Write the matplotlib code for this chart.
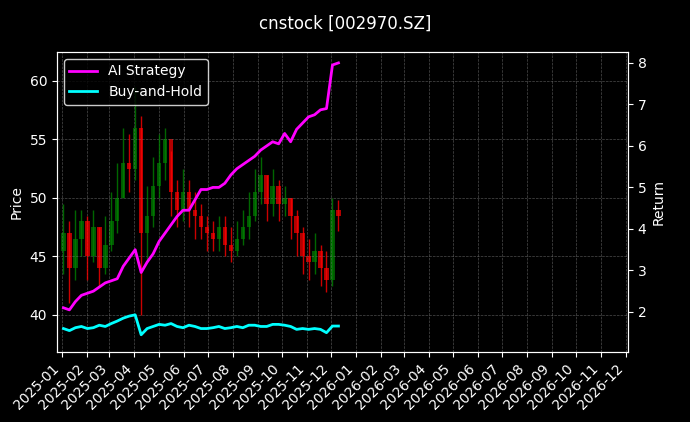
import numpy as np
import pandas as pd
import matplotlib
matplotlib.use("Agg")
import matplotlib.pyplot as plt
import matplotlib.dates as mdates

closes = [47, 44, 46.5, 48, 45, 47.5, 44, 46, 48, 50, 53, 52.5,
          56, 47, 48.5, 51, 53, 55, 50.5, 49, 50.5, 49, 48.5, 47.5,
          47, 46.5, 47.5, 46, 45.5, 46.5, 47.5, 48.5, 50.5, 52, 49.5, 51,
          49.5, 50, 48.5, 47, 45, 44.5, 45.5, 44, 43, 49, 48.5]
opens = [45.5] + closes[:-1]
highs = [49.5, 48, 49, 49, 48.5, 49, 47.5, 48.5, 50.5, 53, 56, 55.5,
         59.5, 57, 51, 53.5, 55.5, 56, 54, 51.5, 52.5, 51.5, 50.5, 49.5,
         48.5, 48, 48.5, 48.5, 47.5, 48, 49, 50.5, 52.5, 53.5, 52, 52.5,
         51.5, 51, 50, 49, 47.5, 46.5, 47, 46, 45.5, 50, 49.8]
lows = [43.5, 41, 43, 45, 43, 44.5, 42.5, 43.5, 45.5, 47, 50, 50.5,
        51.5, 40, 44.5, 47.5, 50, 51.5, 48.5, 47.5, 48, 47.5, 46.5, 46.5,
        45.5, 45.5, 45.5, 45, 44.5, 45, 46, 46.5, 48, 49.5, 48, 48.5,
        48, 48.5, 46.5, 45, 43.5, 43, 43.5, 42.5, 42, 42.5, 47.2]

ai_ret = [2.1, 2.05, 2.25, 2.4, 2.45, 2.5, 2.6, 2.7, 2.75, 2.8, 3.1, 3.3,
          3.5, 2.95, 3.2, 3.4, 3.7, 3.9, 4.1, 4.3, 4.45, 4.45, 4.7, 4.95,
          4.95, 5.0, 5.0, 5.1, 5.3, 5.45, 5.55, 5.65, 5.75, 5.9, 6.0, 6.1,
          6.05, 6.3, 6.1, 6.4, 6.55, 6.7, 6.75, 6.87, 6.9, 7.95, 8.0]
bh_ret = [1.6, 1.55, 1.62, 1.65, 1.6, 1.62, 1.68, 1.65, 1.72, 1.78, 1.85, 1.9,
          1.93, 1.45, 1.6, 1.65, 1.7, 1.68, 1.72, 1.65, 1.62, 1.68, 1.65, 1.6,
          1.6, 1.62, 1.65, 1.6, 1.62, 1.65, 1.62, 1.68, 1.68, 1.65, 1.65, 1.7,
          1.7, 1.68, 1.65, 1.58, 1.6, 1.58, 1.6, 1.58, 1.5, 1.66, 1.66]

start = pd.Timestamp("2025-01-03")
end = pd.Timestamp("2025-12-10")
dates = pd.to_datetime(np.linspace(start.value, end.value, len(closes)))
xd = mdates.date2num(dates)

fig = plt.figure(figsize=(6.9, 4.22), dpi=100, facecolor="black")
ax = fig.add_axes([0.0826, 0.166, 0.8275, 0.711])
ax.set_facecolor("black")
w = (xd[1] - xd[0]) * 0.75
for x, o, h, l, c in zip(xd, opens, highs, lows, closes):
    col = "green" if c >= o else "red"
    ax.vlines(x, l, h, color=col, lw=1, alpha=0.8)
    ax.bar(x, max(abs(c - o), 0.1), bottom=min(o, c), width=w,
           color=col, alpha=0.7)
ax.set_ylim(36.84, 62.48)
ax.set_xlim(mdates.date2num(pd.Timestamp("2024-12-26")), mdates.date2num(pd.Timestamp("2026-12-04")))
ax.set_ylabel("Price", color="white")
ax.grid(True, color="gray", ls="--", lw=0.5, alpha=0.6)
ax.xaxis.set_major_locator(mdates.MonthLocator())
ax.xaxis.set_major_formatter(mdates.DateFormatter("%Y-%m"))
plt.setp(ax.get_xticklabels(), rotation=45, ha="right")

ax2 = ax.twinx()
l1, = ax2.plot(dates, ai_ret, color="magenta", lw=2, label="AI Strategy")
l2, = ax2.plot(dates, bh_ret, color="cyan", lw=2, label="Buy-and-Hold")
ax2.set_ylim(1.036, 8.265)
ax2.set_ylabel("Return", color="white")

for a in (ax, ax2):
    a.tick_params(colors="white", labelsize=10)
    for s in a.spines.values():
        s.set_color("white")

leg = ax.legend(handles=[l1, l2], loc="upper left", facecolor="black",
                edgecolor="white", labelcolor="white", fontsize=10)
fig.suptitle("cnstock [002970.SZ]", color="white", fontsize=12, y=0.965)
fig.savefig("out.png", facecolor="black")
